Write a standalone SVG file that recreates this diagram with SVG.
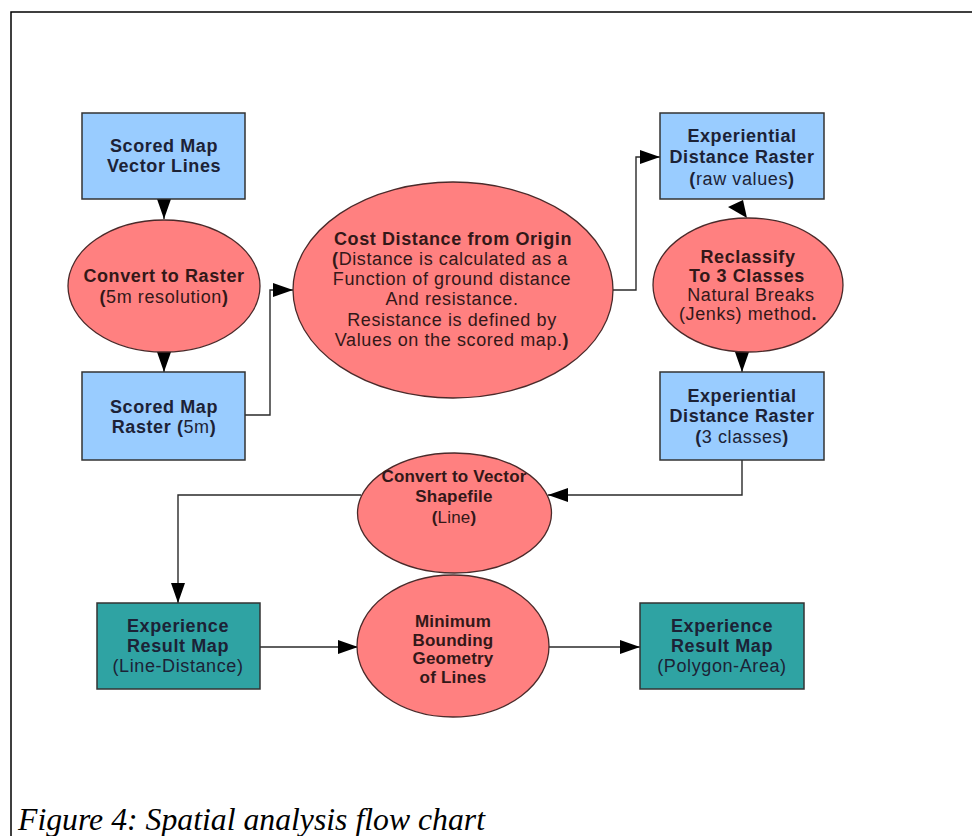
<svg xmlns="http://www.w3.org/2000/svg" width="972" height="836" viewBox="0 0 972 836">
<style>
.bg{fill:#ffffff}
.frame{fill:none;stroke:#000;stroke-width:1.5}
.box{fill:#99ccff;stroke:#333;stroke-width:1.5}
.teal{fill:#2fa3a3;stroke:#333;stroke-width:1.5}
.ell{fill:#ff8080;stroke:#4a2a2a;stroke-width:1.3}
.t{font-family:"Liberation Sans",Arial,sans-serif;font-size:18px;text-anchor:middle;letter-spacing:0.6px}
.s{font-size:17px;letter-spacing:0.2px}
.bt{fill:#1c2236}
.et{fill:#331818}
.b{font-weight:bold}
.r{font-weight:normal}
.con{fill:none;stroke:#2a2a2a;stroke-width:1.4}
.ah{fill:#000}
.cap{font-family:"Liberation Serif","Times New Roman",serif;font-style:italic;font-size:31px;fill:#000}
</style>
<defs>
<marker id="arr" viewBox="0 0 20 14" refX="20" refY="7" markerWidth="20" markerHeight="14" markerUnits="userSpaceOnUse" orient="auto">
<path d="M0,0 L20,7 L0,14 Z" class="ah"/>
</marker>
</defs>
<rect class="bg" x="0" y="0" width="972" height="836"/>
<path class="frame" d="M11,836 L11,12 L972,12"/>

<g id="connectors">
<path class="con" d="M164,199 L164,219" marker-end="url(#arr)"/>
<path class="con" d="M164,352 L164,372" marker-end="url(#arr)"/>
<path class="con" d="M245,415 L270,415 L270,290 L293,290" marker-end="url(#arr)"/>
<path class="con" d="M613,290 L636,290 L636,157 L660,157" marker-end="url(#arr)"/>
<polygon class="ah" points="728,207 743,200 747,218"/>
<rect x="740" y="345" width="5" height="6" fill="none" stroke="#000" stroke-width="1"/>
<path class="con" d="M742,352 L742,372" marker-end="url(#arr)"/>
<path class="con" d="M742,460 L742,495 L548,495" marker-end="url(#arr)"/>
<path class="con" d="M361,495 L178,495 L178,603" marker-end="url(#arr)"/>
<path class="con" d="M260,647 L358,647" marker-end="url(#arr)"/>
<path class="con" d="M549,647 L640,647" marker-end="url(#arr)"/>
</g>

<g id="scored-map-vector">
<rect class="box" x="82" y="113" width="163" height="86"/>
<text class="t bt b" x="164" y="152">Scored Map</text>
<text class="t bt b" x="164" y="172">Vector Lines</text>
</g>

<g id="convert-to-raster">
<ellipse class="ell" cx="164" cy="286" rx="96" ry="66"/>
<text class="t et b" x="164" y="282">Convert to Raster</text>
<text class="t et" x="164" y="303"><tspan class="b">(</tspan><tspan class="r">5m resolution</tspan><tspan class="b">)</tspan></text>
</g>

<g id="scored-map-raster">
<rect class="box" x="82" y="372" width="163" height="88"/>
<text class="t bt b" x="164" y="413">Scored Map</text>
<text class="t bt" x="164" y="433"><tspan class="b">Raster (</tspan><tspan class="r">5m</tspan><tspan class="b">)</tspan></text>
</g>

<g id="cost-distance">
<ellipse class="ell" cx="453" cy="290" rx="160" ry="108"/>
<text class="t et b" x="453" y="245">Cost Distance from Origin</text>
<text class="t et" x="450" y="265"><tspan class="b">(</tspan><tspan class="r">Distance is calculated as a</tspan></text>
<text class="t et r" x="452" y="285">Function of ground distance</text>
<text class="t et r" x="452" y="305">And resistance.</text>
<text class="t et r" x="452" y="326">Resistance is defined by</text>
<text class="t et" x="452" y="346"><tspan class="r">Values on the scored map.</tspan><tspan class="b">)</tspan></text>
</g>

<g id="exp-raster-raw">
<rect class="box" x="660" y="113" width="164" height="86"/>
<text class="t bt b" x="742" y="142">Experiential</text>
<text class="t bt b" x="742" y="163">Distance Raster</text>
<text class="t bt" x="742" y="185"><tspan class="b">(</tspan><tspan class="r">raw values</tspan><tspan class="b">)</tspan></text>
</g>

<g id="reclassify">
<ellipse class="ell" cx="748" cy="285" rx="95" ry="67"/>
<text class="t et b" x="748" y="263">Reclassify</text>
<text class="t et b" x="747" y="282">To 3 Classes</text>
<text class="t et r" x="751" y="301">Natural Breaks</text>
<text class="t et" x="748" y="320"><tspan class="r">(Jenks) method</tspan><tspan class="b">.</tspan></text>
</g>

<g id="exp-raster-3">
<rect class="box" x="660" y="372" width="164" height="88"/>
<text class="t bt b" x="742" y="402">Experiential</text>
<text class="t bt b" x="742" y="422">Distance Raster</text>
<text class="t bt" x="742" y="443"><tspan class="b">(</tspan><tspan class="r">3 classes</tspan><tspan class="b">)</tspan></text>
</g>

<g id="convert-to-vector">
<ellipse class="ell" cx="454.5" cy="513" rx="97" ry="60"/>
<text class="t s et b" x="454" y="482">Convert to Vector</text>
<text class="t s et b" x="454" y="502">Shapefile</text>
<text class="t s et" x="454" y="523"><tspan class="b">(</tspan><tspan class="r">Line</tspan><tspan class="b">)</tspan></text>
</g>

<g id="result-line">
<rect class="teal" x="97" y="603" width="163" height="86"/>
<text class="t bt b" x="178" y="632">Experience</text>
<text class="t bt b" x="178" y="652">Result Map</text>
<text class="t bt r" x="178" y="672">(Line-Distance)</text>
</g>

<g id="min-bounding">
<ellipse class="ell" cx="453" cy="646" rx="96" ry="71"/>
<text class="t s et b" x="453" y="627">Minimum</text>
<text class="t s et b" x="453" y="645.5">Bounding</text>
<text class="t s et b" x="453" y="664">Geometry</text>
<text class="t s et b" x="453" y="682.5">of Lines</text>
</g>

<g id="result-polygon">
<rect class="teal" x="640" y="603" width="164" height="86"/>
<text class="t bt b" x="722" y="632">Experience</text>
<text class="t bt b" x="722" y="652">Result Map</text>
<text class="t bt r" x="722" y="672">(Polygon-Area)</text>
</g>

<text class="cap" x="18" y="830" textLength="467" lengthAdjust="spacingAndGlyphs">Figure 4: Spatial analysis flow chart</text>
</svg>
